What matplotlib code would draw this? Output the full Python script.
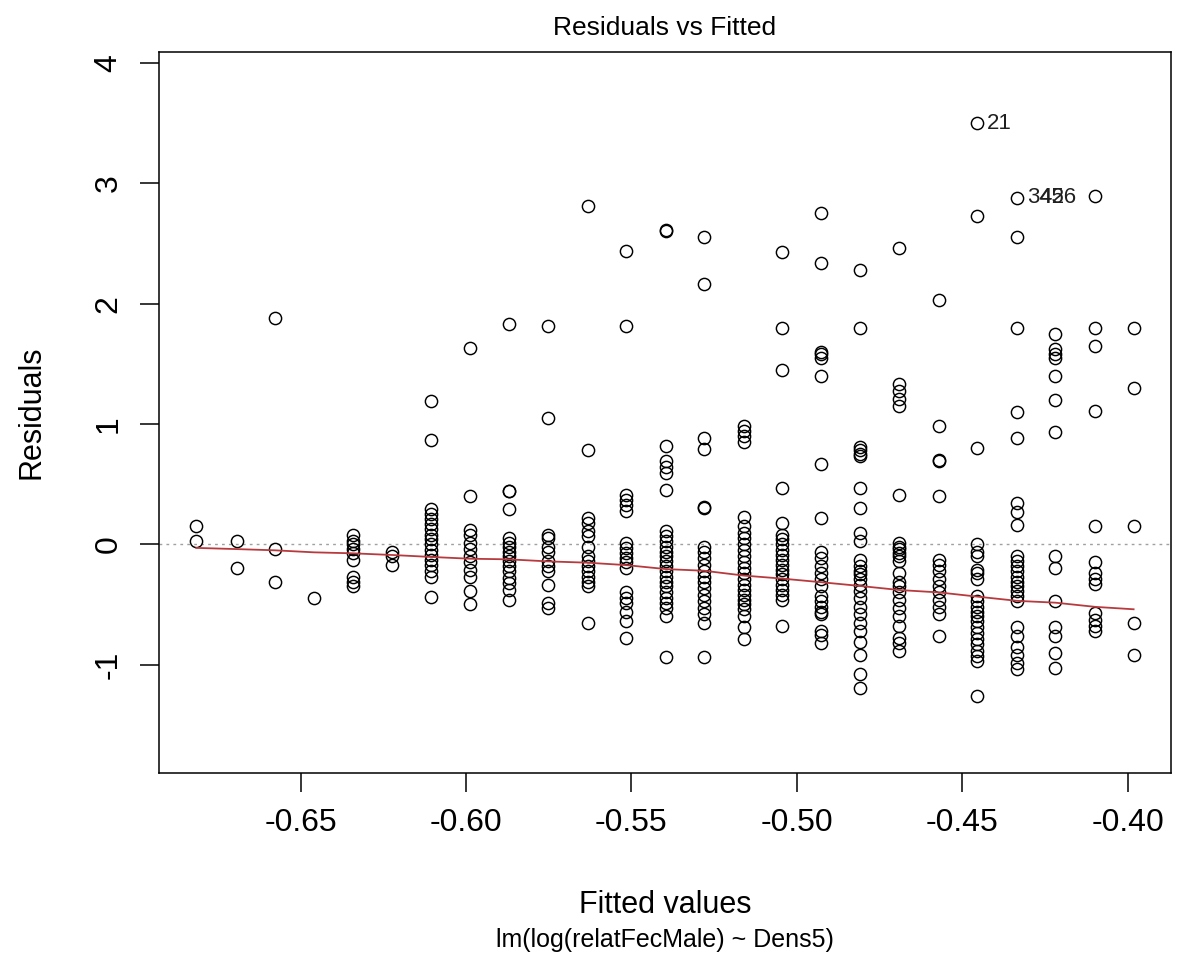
import matplotlib
matplotlib.use("Agg")
import matplotlib.pyplot as plt
import numpy as np

plt.rcParams['font.family'] = ['Liberation Sans', 'DejaVu Sans']
plt.rcParams['axes.unicode_minus'] = False

# Distinct fitted values (one column of points per value)
fitted_levels = [-0.6815, -0.6693, -0.6578, -0.6459, -0.6343, -0.6223, -0.6107,
                 -0.5988, -0.5871, -0.5753, -0.5632, -0.5516, -0.5396, -0.5280,
                 -0.5160, -0.5045, -0.4927, -0.4810, -0.4690, -0.4570, -0.4454,
                 -0.4334, -0.4219, -0.4098, -0.3982]

# Residuals for each fitted value
r00 = [0.15, 0.03]
r01 = [0.03, -0.20]
r02 = [1.88, -0.04, -0.31]
r03 = [-0.45]
r04 = [0.08, 0.03, 0.00, -0.04, -0.07, -0.13, -0.27, -0.31, -0.35]
r05 = [-0.06, -0.10, -0.17]
r06 = [1.19, 0.87, 0.29, 0.25, 0.21, 0.17, 0.13, 0.08, 0.04, 0.00, -0.05, -0.09,
       -0.13, -0.17, -0.22, -0.27, -0.44]
r07 = [1.63, 0.40, 0.12, 0.08, 0.01, -0.04, -0.10, -0.15, -0.21, -0.27, -0.39, -0.50]
r08 = [1.83, 0.44, 0.44, 0.29, 0.05, 0.01, -0.02, -0.06, -0.10, -0.14, -0.18, -0.22,
       -0.28, -0.32, -0.38, -0.46]
r09 = [1.81, 1.05, 0.08, 0.05, -0.02, -0.06, -0.14, -0.18, -0.22, -0.34, -0.49, -0.53]
r10 = [2.81, 0.78, 0.22, 0.18, 0.11, 0.07, -0.02, -0.10, -0.14, -0.18, -0.22, -0.27,
       -0.31, -0.35, -0.65]
r11 = [2.44, 1.81, 0.41, 0.37, 0.33, 0.28, 0.01, -0.03, -0.07, -0.11, -0.15, -0.20,
       -0.40, -0.45, -0.49, -0.56, -0.64, -0.78]
r12 = [2.61, 2.60, 0.82, 0.69, 0.64, 0.59, 0.45, 0.11, 0.07, 0.03, -0.02, -0.06,
       -0.10, -0.14, -0.18, -0.22, -0.27, -0.31, -0.35, -0.40, -0.45, -0.49, -0.53,
       -0.60, -0.94]
r13 = [2.55, 2.16, 0.88, 0.79, 0.31, 0.30, -0.02, -0.06, -0.11, -0.17, -0.22, -0.27,
       -0.31, -0.36, -0.42, -0.47, -0.53, -0.58, -0.65, -0.94]
r14 = [0.98, 0.94, 0.90, 0.85, 0.23, 0.15, 0.09, 0.05, 0.00, -0.05, -0.10, -0.15,
       -0.20, -0.24, -0.29, -0.34, -0.38, -0.42, -0.46, -0.50, -0.54, -0.60, -0.69,
       -0.79]
r15 = [2.43, 1.80, 1.45, 0.47, 0.18, 0.08, 0.04, 0.00, -0.05, -0.09, -0.13, -0.17,
       -0.21, -0.25, -0.29, -0.34, -0.38, -0.42, -0.46, -0.68]
r16 = [2.75, 2.34, 1.60, 1.58, 1.55, 1.40, 0.67, 0.22, -0.06, -0.11, -0.18, -0.24,
       -0.29, -0.35, -0.43, -0.47, -0.52, -0.56, -0.58, -0.72, -0.75, -0.82]
r17 = [2.28, 1.80, 0.81, 0.78, 0.75, 0.73, 0.47, 0.30, 0.09, 0.03, -0.13, -0.18,
       -0.22, -0.25, -0.29, -0.34, -0.39, -0.45, -0.52, -0.58, -0.65, -0.72, -0.81,
       -0.92, -1.08, -1.19]
r18 = [2.46, 1.33, 1.27, 1.21, 1.15, 0.41, 0.01, -0.02, -0.04, -0.07, -0.10, -0.14,
       -0.24, -0.31, -0.35, -0.40, -0.46, -0.53, -0.60, -0.68, -0.78, -0.82, -0.89]
r19 = [2.03, 0.98, 0.70, 0.69, 0.40, -0.13, -0.17, -0.22, -0.29, -0.35, -0.40, -0.46,
       -0.52, -0.58, -0.76]
r20 = [3.50, 2.73, 0.80, 0.00, -0.06, -0.10, -0.21, -0.24, -0.29, -0.43, -0.47,
       -0.52, -0.56, -0.60, -0.64, -0.69, -0.74, -0.79, -0.83, -0.89, -0.93, -0.97,
       -1.26]
r21 = [2.88, 2.55, 1.80, 1.10, 0.88, 0.34, 0.27, 0.16, -0.10, -0.14, -0.18, -0.22,
       -0.27, -0.31, -0.35, -0.39, -0.43, -0.47, -0.69, -0.76, -0.85, -0.92, -0.99,
       -1.04]
r22 = [1.75, 1.62, 1.58, 1.55, 1.40, 1.20, 0.93, -0.10, -0.20, -0.47, -0.69, -0.76,
       -0.90, -1.03]
r23 = [2.89, 1.80, 1.65, 1.11, 0.15, -0.15, -0.24, -0.29, -0.33, -0.57, -0.63,
       -0.68, -0.72]
r24 = [1.80, 1.30, 0.15, -0.65, -0.92]

residual_groups = [r00, r01, r02, r03, r04, r05, r06, r07, r08, r09, r10, r11, r12,
                   r13, r14, r15, r16, r17, r18, r19, r20, r21, r22, r23, r24]

# Smoother (red line) value at each fitted value
smooth_values = [-0.03, -0.04, -0.05, -0.067, -0.075, -0.089, -0.105, -0.12, -0.125,
                 -0.142, -0.153, -0.173, -0.206, -0.22, -0.26, -0.285, -0.315,
                 -0.346, -0.38, -0.40, -0.435, -0.47, -0.485, -0.52, -0.54]

# Labelled observations: (label, level index, residual)
label_texts = ["21", "342", "456"]
label_levels = [20, 21, 21]
label_resid = [3.50, 2.88, 2.88]
label_offsets_pt = [7, 7.5, 16]

x_ticks = [-0.65, -0.60, -0.55, -0.50, -0.45, -0.40]
y_ticks = [-1, 0, 1, 2, 3, 4]

xs, ys = [], []
for lvl, grp in zip(fitted_levels, residual_groups):
    for r in grp:
        xs.append(lvl)
        ys.append(r)

fig = plt.figure(figsize=(11.82, 9.74), dpi=100)
ax = fig.add_axes([0.1345, 0.2064, 0.8562, 0.7402])

ax.axhline(0, color='#a0a0a0', lw=1.0, ls=(0, (2, 3)), zorder=1)
ax.plot(xs, ys, 'o', ms=8.8, mfc='none', mec='black', mew=1.05, zorder=3)
ax.plot(fitted_levels, smooth_values, color='#b83a3e', lw=1.3, zorder=4)

for t, li, rv, off in zip(label_texts, label_levels, label_resid, label_offsets_pt):
    ax.annotate(t, (fitted_levels[li], rv), xytext=(off, 0), textcoords='offset points',
                ha='left', va='center', fontsize=16, color='#202020')

ax.set_xlim(-0.6928, -0.3869)
ax.set_ylim(-1.90, 4.09)
ax.set_xticks(x_ticks)
ax.set_xticklabels([f"{v:.2f}" for v in x_ticks])
ax.set_yticks(y_ticks)
ax.set_yticklabels([str(v) for v in y_ticks], rotation=90, va='center')
ax.tick_params(axis='both', length=13.5, width=1.1, labelsize=23, pad=12,
               color='black')
for s in ax.spines.values():
    s.set_linewidth(1.1)

fig.text(0.5 * (0.1345 + 0.9907), 0.971, "Residuals vs Fitted", ha='center',
         va='center', fontsize=19)
fig.text(0.5 * (0.1345 + 0.9907), 0.071, "Fitted values", ha='center', va='center',
         fontsize=22)
fig.text(0.5 * (0.1345 + 0.9907), 0.035, "lm(log(relatFecMale) ~ Dens5)", ha='center',
         va='center', fontsize=18)
fig.text(0.027, 0.5 * (0.2064 + 0.9466), "Residuals", rotation=90, ha='center',
         va='center', fontsize=22)

fig.savefig("out.png", dpi=100)
